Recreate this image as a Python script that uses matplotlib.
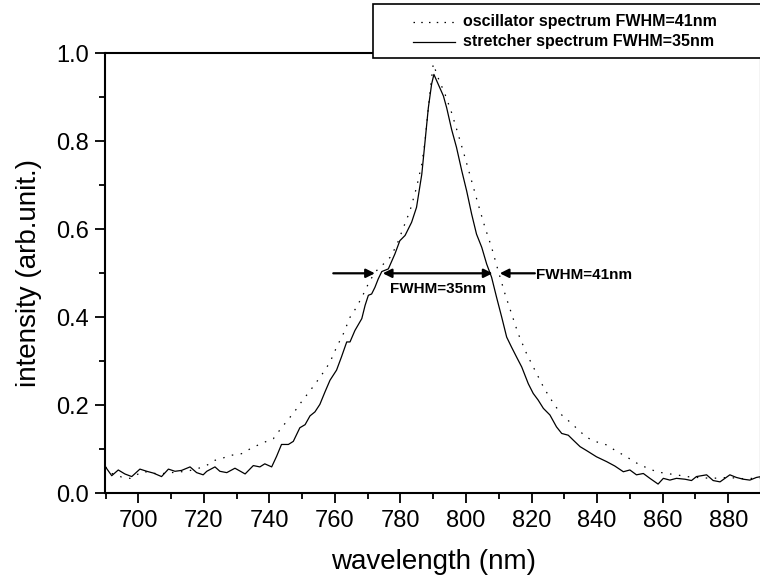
import matplotlib
matplotlib.use("Agg")
import matplotlib.pyplot as plt
from matplotlib.lines import Line2D
from matplotlib.patches import Rectangle
from matplotlib.ticker import MultipleLocator

plt.rcParams['font.family'] = ['Liberation Sans', 'DejaVu Sans']

# stretcher spectrum (solid)
stretcher_wl = [690.0, 691.9, 693.9, 695.9, 698.0, 700.5, 702.6, 704.6, 707.1, 709.2,
                711.2, 713.2, 715.8, 717.8, 719.8, 720.9, 723.4, 724.9, 727.0, 729.5,
                732.6, 735.1, 737.1, 738.6, 740.7, 742.2, 743.7, 745.8, 747.3, 749.3,
                750.9, 752.4, 753.9, 755.4, 757.0, 758.5, 760.5, 762.0, 763.6, 764.6,
                766.1, 768.2, 769.2, 770.2, 771.2, 772.2, 773.2, 774.3, 776.3, 778.3,
                779.8, 781.4, 783.4, 784.9, 786.5, 787.5, 788.5, 789.5, 790.2, 791.5,
                793.1, 794.1, 795.6, 797.1, 798.7, 800.2, 801.7, 803.2, 804.8, 806.3,
                807.8, 809.3, 810.9, 812.4, 813.9, 815.4, 817.0, 819.0, 820.5, 822.0,
                823.6, 825.6, 827.6, 829.2, 831.2, 832.7, 834.8, 836.8, 839.8, 842.9,
                845.4, 848.0, 850.0, 852.0, 854.1, 856.1, 858.6, 860.2, 862.2, 864.2,
                866.8, 868.8, 870.3, 873.4, 875.4, 877.5, 880.5, 882.5, 884.6, 886.6,
                888.6, 890.0]
stretcher_int = [0.060, 0.040, 0.053, 0.044, 0.038, 0.055, 0.050, 0.046, 0.038, 0.055,
                 0.050, 0.052, 0.060, 0.047, 0.042, 0.050, 0.060, 0.050, 0.047, 0.057,
                 0.044, 0.063, 0.060, 0.067, 0.060, 0.084, 0.111, 0.111, 0.118, 0.149,
                 0.156, 0.176, 0.185, 0.202, 0.231, 0.257, 0.280, 0.310, 0.344, 0.344,
                 0.370, 0.397, 0.427, 0.450, 0.453, 0.468, 0.487, 0.504, 0.510, 0.544,
                 0.574, 0.586, 0.616, 0.650, 0.725, 0.800, 0.876, 0.930, 0.952, 0.930,
                 0.903, 0.876, 0.827, 0.786, 0.733, 0.687, 0.635, 0.589, 0.559, 0.521,
                 0.491, 0.446, 0.400, 0.355, 0.332, 0.310, 0.287, 0.249, 0.227, 0.212,
                 0.193, 0.178, 0.151, 0.136, 0.132, 0.121, 0.106, 0.097, 0.083, 0.072,
                 0.062, 0.049, 0.053, 0.042, 0.045, 0.034, 0.021, 0.034, 0.030, 0.034,
                 0.032, 0.029, 0.038, 0.042, 0.029, 0.026, 0.042, 0.036, 0.032, 0.030,
                 0.036, 0.038]

# oscillator spectrum (dotted)
osc_wl = [690.0, 692.0, 694.9, 697.5, 699.5, 701.5, 704.0, 706.5, 708.7, 711.5,
          714.8, 717.5, 719.8, 721.5, 723.4, 725.8, 728.0, 731.5, 734.6, 738.1,
          741.2, 743.7, 745.8, 748.3, 749.8, 752.4, 754.4, 756.5, 758.5, 760.5,
          762.6, 764.6, 766.6, 768.7, 770.7, 772.7, 774.8, 776.8, 778.8, 780.9,
          782.9, 784.9, 786.5, 787.5, 788.5, 789.5, 790.0, 791.5, 793.6, 795.6,
          797.6, 799.7, 801.7, 803.7, 805.8, 807.8, 809.8, 811.9, 813.9, 815.9,
          818.5, 821.0, 823.6, 825.1, 827.1, 829.2, 831.7, 834.3, 836.8, 839.8,
          842.9, 845.4, 848.0, 850.5, 853.1, 855.6, 858.1, 861.2, 864.2, 867.3,
          870.5, 875.0, 880.0, 885.0, 890.0]
osc_int = [0.060, 0.045, 0.037, 0.034, 0.042, 0.050, 0.046, 0.044, 0.046, 0.048,
           0.050, 0.055, 0.060, 0.066, 0.075, 0.080, 0.086, 0.090, 0.103, 0.115,
           0.124, 0.149, 0.168, 0.192, 0.208, 0.233, 0.253, 0.275, 0.298, 0.332,
           0.363, 0.400, 0.423, 0.453, 0.484, 0.506, 0.521, 0.536, 0.563, 0.604,
           0.642, 0.695, 0.748, 0.800, 0.876, 0.944, 0.976, 0.944, 0.907, 0.865,
           0.816, 0.763, 0.710, 0.657, 0.604, 0.559, 0.506, 0.453, 0.408, 0.363,
           0.317, 0.280, 0.242, 0.223, 0.200, 0.178, 0.162, 0.144, 0.127, 0.117,
           0.110, 0.098, 0.087, 0.076, 0.064, 0.057, 0.049, 0.045, 0.042, 0.038,
           0.036, 0.034, 0.036, 0.033, 0.035]

W, H = 760, 579
fig = plt.figure(figsize=(W / 100, H / 100), dpi=100)
ax = fig.add_axes([105.5 / W, 1 - 493.3 / H, (761 - 105.5) / W, (493.3 - 53.3) / H])

ax.plot(osc_wl, osc_int, color='black', lw=0.9, linestyle=(0, (1.2, 6)))
ax.plot(stretcher_wl, stretcher_int, color='black', lw=0.9)

ax.set_xlim(690, 890)
ax.set_ylim(0, 1.0)
ax.xaxis.set_major_locator(MultipleLocator(20))
ax.xaxis.set_minor_locator(MultipleLocator(10))
ax.yaxis.set_major_locator(MultipleLocator(0.2))
ax.yaxis.set_minor_locator(MultipleLocator(0.1))
ax.tick_params(which='major', direction='out', length=7, width=1.3, labelsize=17, pad=5)
ax.tick_params(which='minor', direction='out', length=4, width=1.3)
for s in ax.spines.values():
    s.set_linewidth(1.5)

ax.set_xlabel('wavelength (nm)', fontsize=20, labelpad=12)
ax.set_ylabel('intensity (arb.unit.)', fontsize=20, labelpad=10)

# FWHM arrows
arr = dict(arrowstyle='-|>', color='black', lw=1.6, mutation_scale=13, shrinkA=0, shrinkB=0)
ax.annotate('', xy=(772.2, 0.5), xytext=(759.5, 0.5), arrowprops=arr)
ax.annotate('', xy=(810.3, 0.5), xytext=(821.0, 0.5), arrowprops=arr)
ax.annotate('', xy=(774.6, 0.5), xytext=(808.1, 0.5),
            arrowprops=dict(arrowstyle='<|-|>', color='black', lw=1.6,
                            mutation_scale=13, shrinkA=0, shrinkB=0))
ax.text(791.5, 0.465, 'FWHM=35nm', fontsize=11, fontweight='bold', ha='center', va='center')
ax.text(821.2, 0.497, 'FWHM=41nm', fontsize=11, fontweight='bold', ha='left', va='center')

# legend box, drawn over the top spine
fig.add_artist(Rectangle((373 / W, 1 - 58.3 / H), (W + 10 - 373) / W, (58.3 - 4) / H,
                         transform=fig.transFigure, facecolor='white', edgecolor='black',
                         lw=1.2, zorder=10))
fig.add_artist(Line2D([413 / W, 455 / W], [1 - 21.7 / H] * 2, transform=fig.transFigure,
                      color='black', lw=0.9, linestyle=(0, (1.2, 5)), zorder=11))
fig.add_artist(Line2D([413 / W, 455 / W], [1 - 41.7 / H] * 2, transform=fig.transFigure,
                      color='black', lw=0.9, zorder=11))
fig.text(463 / W, 1 - 21.7 / H, 'oscillator spectrum FWHM=41nm', fontsize=11.5,
         fontweight='bold', va='center', ha='left', zorder=11)
fig.text(463 / W, 1 - 41.7 / H, 'stretcher spectrum FWHM=35nm', fontsize=11.5,
         fontweight='bold', va='center', ha='left', zorder=11)

fig.savefig('out.png', dpi=100)
